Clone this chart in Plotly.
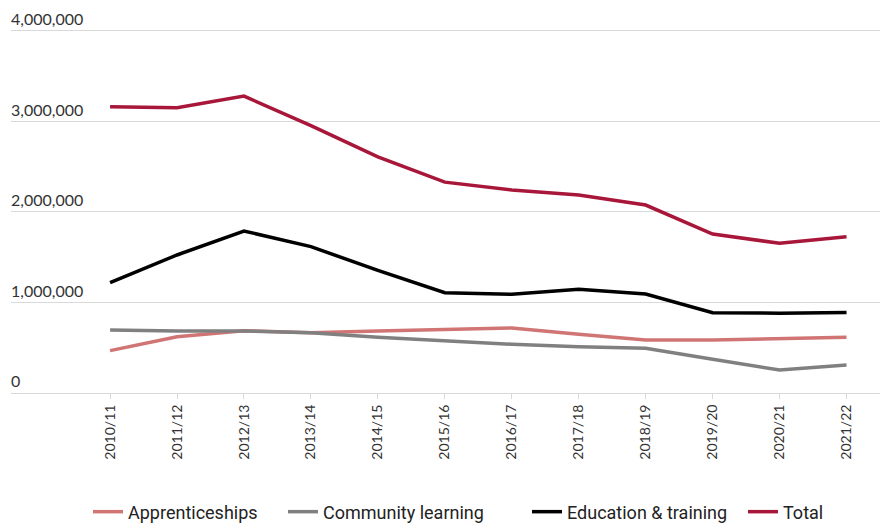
import plotly.graph_objects as go

years = ['2010/11', '2011/12', '2012/13', '2013/14', '2014/15', '2015/16',
         '2016/17', '2017/18', '2018/19', '2019/20', '2020/21', '2021/22']

apprenticeships = [468000, 622000, 688000, 666000, 685000, 703000,
                   718000, 648000, 585000, 585000, 600000, 615000]
community = [696000, 685000, 685000, 666000, 615000, 575000,
             538000, 512000, 494000, 372000, 254000, 309000]
education = [1219000, 1525000, 1790000, 1617000, 1355000, 1108000,
             1090000, 1146000, 1094000, 888000, 882000, 890000]
total = [3164000, 3153000, 3280000, 2955000, 2610000, 2330000,
         2243000, 2188000, 2077000, 1757000, 1654000, 1727000]

series_names = ['Apprenticeships', 'Community learning', 'Education & training', 'Total']
colours = ['#d07474', '#808080', '#000000', '#a8173a']
# where each legend entry's text starts (px), one legend per series
legend_text_px = [130, 325, 569, 785]

fig = go.Figure()
legend_font = dict(size=18, family='Roboto, sans-serif', color='#222222')
for i, (name, vals, col) in enumerate(zip(series_names, [apprenticeships, community, education, total], colours)):
    lg = 'legend' if i == 0 else 'legend%d' % (i + 1)
    fig.add_trace(go.Scatter(x=years, y=vals, name=name, mode='lines', legend=lg,
                             line=dict(color=col, width=3.5)))
    fig.update_layout({lg: dict(orientation='h', x=(legend_text_px[i] - 42 - 11) / 869, xanchor='left',
                                y=-0.309, yanchor='middle', font=legend_font, bgcolor='rgba(0,0,0,0)')})

# plot area runs from y=8 to y=393; top of range padded so the 4,000,000 label sits inside
fig.update_layout(
    width=880, height=523,
    margin=dict(l=11, r=0, t=8, b=130, autoexpand=False),
    plot_bgcolor='white', paper_bgcolor='white',
    font=dict(family='Lato, sans-serif', color='#333333'),
    showlegend=True,
)
fig.update_xaxes(type='category', range=[-1.48, 11.5], tickangle=-90, automargin=False,
                 tickmode='array', tickvals=years, ticktext=years,
                 ticks='outside', ticklen=5, tickcolor='#d9d9d9',
                 tickfont=dict(size=14, color='#333333'),
                 showgrid=False, showline=False, zeroline=False)
fig.update_yaxes(range=[0, 4254000], tickvals=[0, 1000000, 2000000, 3000000, 4000000],
                 ticktext=['0', '1,000,000', '2,000,000', '3,000,000', '4,000,000'],
                 ticklabelposition='inside top', ticklabelstandoff=-3, automargin=False,
                 tickfont=dict(size=16, color='#333333'),
                 showgrid=True, gridcolor='#d9d9d9', gridwidth=1,
                 zeroline=True, zerolinecolor='#d9d9d9', zerolinewidth=1,
                 showline=False)

# page body has a default 8px margin, drop it so the figure sits at 0,0
fig.write_html("out.html", config={'displayModeBar': False},
               post_script="document.body.style.margin='0px';")
